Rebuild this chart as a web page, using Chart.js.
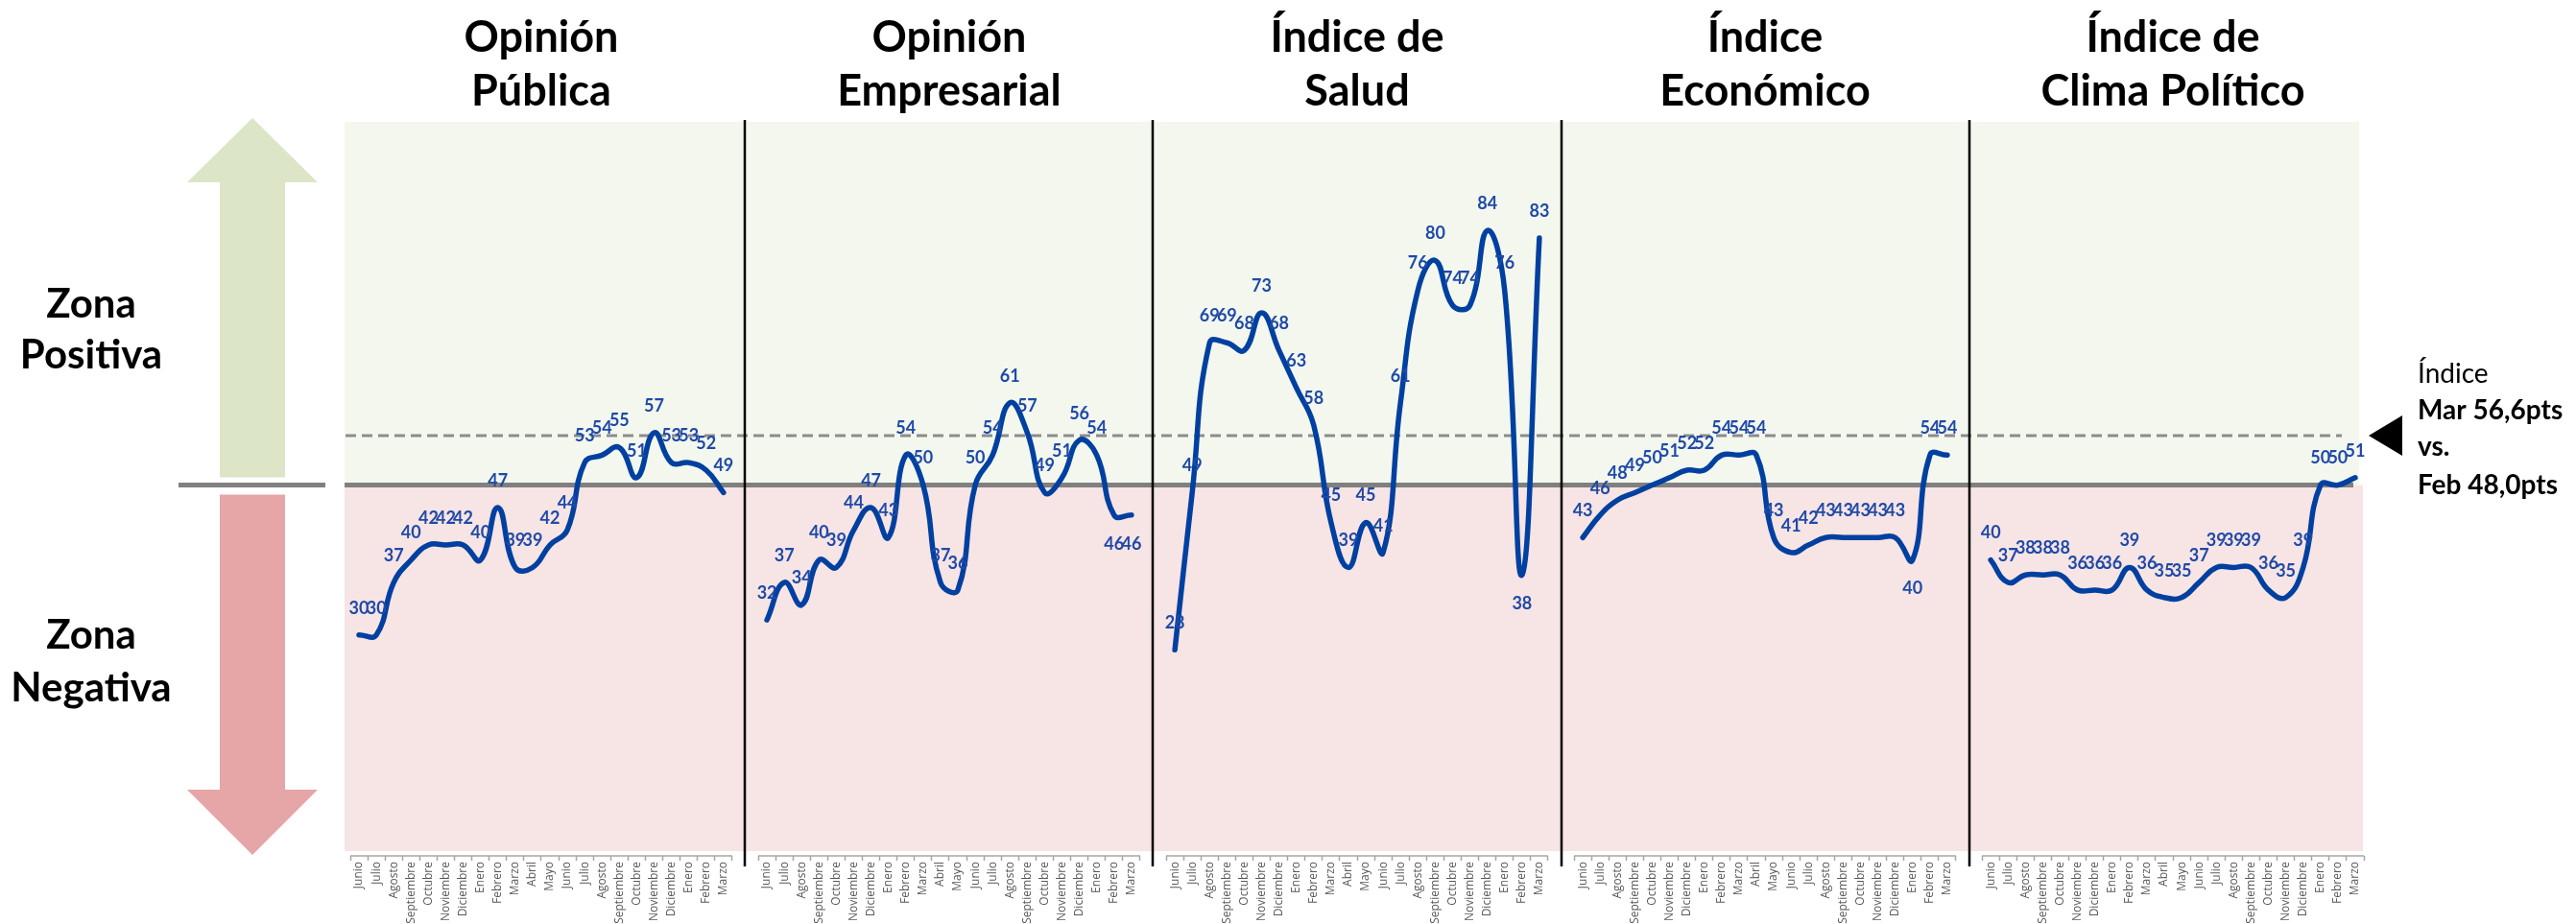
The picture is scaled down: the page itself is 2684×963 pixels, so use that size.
<!DOCTYPE html>
<html>
<head>
  <meta charset="utf-8">
  <title>Índices por zona</title>
  <script src="https://cdn.jsdelivr.net/npm/chart.js"></script>
  <style>
    body { margin: 0; background: #fff; overflow: hidden; }
  </style>
</head>
<body>
  <canvas id="myChart" width="2684" height="963"></canvas>

  <script>
    // Meses de cada panel (junio a marzo del año siguiente)
    var meses = ['Junio', 'Julio', 'Agosto', 'Septiembre', 'Octubre', 'Noviembre', 'Diciembre', 'Enero', 'Febrero', 'Marzo', 'Abril', 'Mayo',
                 'Junio', 'Julio', 'Agosto', 'Septiembre', 'Octubre', 'Noviembre', 'Diciembre', 'Enero', 'Febrero', 'Marzo'];

    var titulos = [['Opinión', 'Pública'], ['Opinión', 'Empresarial'], ['Índice de', 'Salud'], ['Índice', 'Económico'], ['Índice de', 'Clima Político']];

    // Valores de cada índice
    var opinionPublica     = [30, 30, 37, 40, 42, 42, 42, 40, 47, 39, 39, 42, 44, 53, 54, 55, 51, 57, 53, 53, 52, 49];
    var opinionEmpresarial = [32, 37, 34, 40, 39, 44, 47, 43, 54, 50, 37, 36, 50, 54, 61, 57, 49, 51, 56, 54, 46, 46];
    var indiceSalud        = [28, 49, 69, 69, 68, 73, 68, 63, 58, 45, 39, 45, 41, 61, 76, 80, 74, 74, 84, 76, 38, 83];
    var indiceEconomico    = [43, 46, 48, 49, 50, 51, 52, 52, 54, 54, 54, 43, 41, 42, 43, 43, 43, 43, 43, 40, 54, 54];
    var climaPolitico      = [40, 37, 38, 38, 38, 36, 36, 36, 39, 36, 35, 35, 37, 39, 39, 39, 36, 35, 39, 50, 50, 51];

    var series = [opinionPublica, opinionEmpresarial, indiceSalud, indiceEconomico, climaPolitico];

    // Límite entre zona positiva y negativa, e índice general
    var limiteZona = 50;
    var indiceMar = 56.6;
    var indiceFeb = 48.0;

    // Etiquetas que van debajo de la línea: panel -> posiciones
    var etiquetasAbajo = { 1: [20, 21], 2: [20], 3: [19] };

    var PASO = 23.5;   // 22 meses + 1,5 de separación entre paneles
    var MAX_X = PASO * 4 + 22;

    function xDe(p, i) { return p * PASO + i + 0.5; }

    // Marcas del eje: bordes de cada mes y centros con el nombre
    var ticksEje = [];
    for (var p = 0; p < 5; p++) {
      for (var k = 0; k <= 22; k++) ticksEje.push({ value: p * PASO + k });
      for (var i = 0; i < 22; i++) ticksEje.push({ value: xDe(p, i) });
    }
    ticksEje.sort(function(a, b) { return a.value - b.value; });

    function esCentro(v) {
      var p = Math.floor(v / PASO);
      var local = v - p * PASO;
      return Math.abs(local - Math.floor(local) - 0.5) < 0.01;
    }

    function nombreMes(v) {
      if (!esCentro(v)) return '';
      var p = Math.floor(v / PASO);
      return meses[Math.floor(v - p * PASO)];
    }

    var datasets = series.map(function(valores, p) {
      return {
        label: titulos[p].join(' '),
        data: valores.map(function(v, i) { return { x: xDe(p, i), y: v }; }),
        borderColor: '#0040A0',
        borderWidth: 5.5,
        borderCapStyle: 'round',
        borderJoinStyle: 'round',
        tension: 0.45,
        pointRadius: 0,
        fill: false,
        clip: false
      };
    });

    function coma(n) { return n.toFixed(1).replace('.', ','); }

    // Fondos de zona, flechas, líneas de referencia y divisiones
    var fondoZonas = {
      id: 'fondoZonas',
      beforeDatasetsDraw: function(chart) {
        var ctx = chart.ctx, a = chart.chartArea, y = chart.scales.y, x = chart.scales.x;
        var y50 = y.getPixelForValue(limiteZona);
        ctx.save();
        ctx.fillStyle = '#F3F7EE';
        ctx.fillRect(a.left - 6, a.top, a.right - a.left + 1, y50 - a.top);
        ctx.fillStyle = '#F7E4E4';
        ctx.fillRect(a.left - 6, y50, a.right - a.left + 5, a.bottom - 5 - y50);

        // flecha verde hacia arriba
        var cx = a.left - 102;
        ctx.fillStyle = '#DCE6C6';
        ctx.beginPath();
        ctx.moveTo(cx, a.top - 4);
        ctx.lineTo(cx + 68, a.top + 63);
        ctx.lineTo(cx + 34, a.top + 63);
        ctx.lineTo(cx + 34, y50 - 8);
        ctx.lineTo(cx - 34, y50 - 8);
        ctx.lineTo(cx - 34, a.top + 63);
        ctx.lineTo(cx - 68, a.top + 63);
        ctx.closePath();
        ctx.fill();

        // flecha roja hacia abajo
        ctx.fillStyle = '#E6A5A6';
        ctx.beginPath();
        ctx.moveTo(cx - 34, y50 + 10);
        ctx.lineTo(cx + 34, y50 + 10);
        ctx.lineTo(cx + 34, a.bottom - 69);
        ctx.lineTo(cx + 68, a.bottom - 69);
        ctx.lineTo(cx, a.bottom - 1);
        ctx.lineTo(cx - 68, a.bottom - 69);
        ctx.lineTo(cx - 34, a.bottom - 69);
        ctx.closePath();
        ctx.fill();

        // línea de 50 puntos
        ctx.strokeStyle = '#808080';
        ctx.lineWidth = 5;
        ctx.beginPath();
        ctx.moveTo(a.left - 179, y50);
        ctx.lineTo(a.left - 26, y50);
        ctx.moveTo(a.left - 6, y50);
        ctx.lineTo(a.right - 11, y50);
        ctx.stroke();

        // línea punteada del índice actual
        var yIdx = y.getPixelForValue(indiceMar);
        ctx.strokeStyle = '#8C8C8C';
        ctx.lineWidth = 3;
        ctx.setLineDash([11, 6]);
        ctx.beginPath();
        ctx.moveTo(a.left - 5, yIdx);
        ctx.lineTo(a.right - 23, yIdx);
        ctx.stroke();
        ctx.setLineDash([]);

        // divisiones entre paneles
        ctx.strokeStyle = '#000';
        ctx.lineWidth = 2.5;
        ctx.beginPath();
        for (var p = 1; p < 5; p++) {
          var xd = Math.round(x.getPixelForValue(p * PASO - 0.75));
          ctx.moveTo(xd, a.top - 2);
          ctx.lineTo(xd, a.bottom + 11);
        }
        ctx.stroke();

        // línea base del eje por panel
        ctx.strokeStyle = '#A6A6A6';
        ctx.lineWidth = 1.5;
        ctx.beginPath();
        for (var q = 0; q < 5; q++) {
          ctx.moveTo(x.getPixelForValue(q * PASO), a.bottom);
          ctx.lineTo(x.getPixelForValue(q * PASO + 22), a.bottom);
        }
        ctx.stroke();
        ctx.restore();
      },
      afterDatasetsDraw: function(chart) {
        var ctx = chart.ctx;
        ctx.save();
        ctx.font = 'bold 18px Lato';
        ctx.fillStyle = '#1F4AA8';
        ctx.textAlign = 'center';
        ctx.textBaseline = 'middle';
        chart.data.datasets.forEach(function(ds, p) {
          var meta = chart.getDatasetMeta(p);
          var abajo = etiquetasAbajo[p] || [];
          meta.data.forEach(function(pt, i) {
            var dy = abajo.indexOf(i) >= 0 ? 30 : -28;
            ctx.fillText(String(series[p][i]), pt.x, pt.y + dy);
          });
        });
        ctx.restore();
      },
      afterDraw: function(chart) {
        var ctx = chart.ctx, a = chart.chartArea, x = chart.scales.x, y = chart.scales.y;
        ctx.save();
        ctx.fillStyle = '#000';
        ctx.textAlign = 'center';
        ctx.textBaseline = 'alphabetic';

        // títulos de panel
        ctx.font = 'bold 45px Lato';
        titulos.forEach(function(t, p) {
          var cx = x.getPixelForValue(p * PASO + 11);
          ctx.fillText(t[0], cx, 54);
          ctx.fillText(t[1], cx, 110);
        });

        // zonas
        ctx.font = 'bold 42px Lato';
        ctx.fillText('Zona', 95, 331);
        ctx.fillText('Positiva', 95, 384);
        ctx.fillText('Zona', 95, 676);
        ctx.fillText('Negativa', 95, 731);

        // nota del índice a la derecha
        var yIdx = y.getPixelForValue(indiceMar);
        ctx.beginPath();
        ctx.moveTo(a.right + 5, yIdx);
        ctx.lineTo(a.right + 40, yIdx - 21);
        ctx.lineTo(a.right + 40, yIdx + 21);
        ctx.closePath();
        ctx.fill();

        ctx.textAlign = 'left';
        ctx.font = '28px Lato';
        ctx.fillText('Índice', 2519, 399);
        ctx.font = 'bold 28px Lato';
        ctx.fillText('Mar ' + coma(indiceMar) + 'pts', 2519, 437);
        ctx.fillText('vs.', 2519, 475);
        ctx.fillText('Feb ' + coma(indiceFeb) + 'pts', 2519, 515);
        ctx.restore();
      }
    };

    function crearGrafico() {
      var ctx = document.getElementById('myChart').getContext('2d');
      new Chart(ctx, {
        type: 'line',
        data: { datasets: datasets },
        options: {
          responsive: false,
          animation: false,
          layout: { padding: { left: 365, right: 221, top: 127, bottom: 0 } },
          plugins: { legend: { display: false }, tooltip: { enabled: false } },
          scales: {
            x: {
              type: 'linear',
              min: 0,
              max: MAX_X,
              afterBuildTicks: function(scale) { scale.ticks = ticksEje.slice(); },
              afterFit: function(scale) { scale.height = 71; },
              border: { display: false },
              grid: {
                drawOnChartArea: false,
                drawTicks: true,
                tickLength: 5,
                tickWidth: 1.5,
                tickColor: function(c) { return c.tick && esCentro(c.tick.value) ? 'rgba(0,0,0,0)' : '#A6A6A6'; }
              },
              ticks: {
                autoSkip: false,
                minRotation: 90,
                maxRotation: 90,
                padding: 1,
                color: '#595959',
                font: { family: 'Open Sans', size: 12 },
                callback: function(v) { return nombreMes(v); }
              }
            },
            y: { display: false, min: 0.5, max: 98.5 }
          }
        },
        plugins: [fondoZonas]
      });
    }

    Promise.all([
      document.fonts.load('bold 40px Lato'),
      document.fonts.load('25px Lato'),
      document.fonts.load('12px "Open Sans"')
    ]).then(crearGrafico, crearGrafico);
  </script>
</body>
</html>
